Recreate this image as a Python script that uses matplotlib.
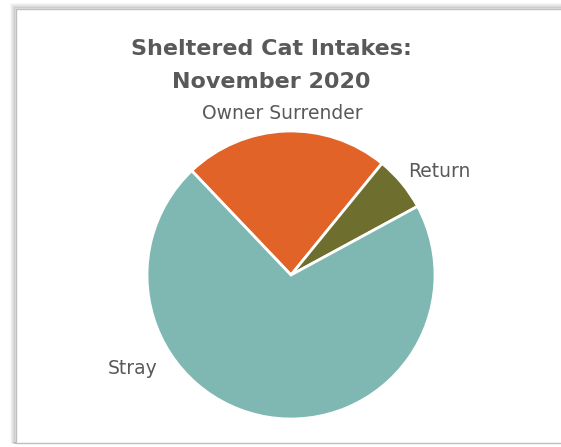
import matplotlib.pyplot as plt
from matplotlib.patches import Rectangle

categories = ['Owner Surrender', 'Return', 'Stray']
values = [23, 6.2, 70.8]
colors = ['#E26327', '#6E6F2E', '#7FB8B2']

W, H = 561, 447
fig = plt.figure(figsize=(W / 100, H / 100), dpi=100)
fig.patch.set_facecolor('white')

# soft shadow + chart frame
for i, a in enumerate([0.06, 0.1, 0.15, 0.22, 0.3]):
    off = 5 - i
    fig.patches.append(Rectangle(((16 - off) / W, 4 / H),
                                 (W + 10) / W, (443 - 9 + off) / H,
                                 transform=fig.transFigure, facecolor='none',
                                 edgecolor='#808080', alpha=a, lw=1.2, zorder=-10))
fig.patches.append(Rectangle((16 / W, 4 / H), (W + 10) / W, (443 - 9) / H,
                             transform=fig.transFigure, facecolor='white',
                             edgecolor='#BFBFBF', lw=1.0, zorder=-5))

cx, cy, r = 291, 275, 144
ax = fig.add_axes([(cx - r) / W, (H - cy - r) / H, 2 * r / W, 2 * r / H])
ax.set_zorder(5)
ax.patch.set_visible(False)
wedges, texts = ax.pie(values, labels=categories, colors=colors, startangle=133.6,
                       counterclock=False, radius=1,
                       wedgeprops=dict(edgecolor='white', linewidth=2))
ax.set_xlim(-1, 1)
ax.set_ylim(-1, 1)
ax.set_aspect('equal')
ax.axis('off')

label_pos = {'Owner Surrender': (-0.06, 1.12), 'Return': (1.03, 0.72), 'Stray': (-1.10, -0.65)}
for t in texts:
    t.set_position(label_pos[t.get_text()])
    t.set_ha('center')
    t.set_va('center')
    t.set_fontsize(13.5)
    t.set_color('#595959')

fig.text(271 / W, 1 - 49 / H, 'Sheltered Cat Intakes:', ha='center', va='center',
         fontsize=16, fontweight='bold', color='#595959', zorder=6)
fig.text(271 / W, 1 - 82 / H, 'November 2020', ha='center', va='center',
         fontsize=16, fontweight='bold', color='#595959', zorder=6)

fig.savefig('out.png', dpi=100)
